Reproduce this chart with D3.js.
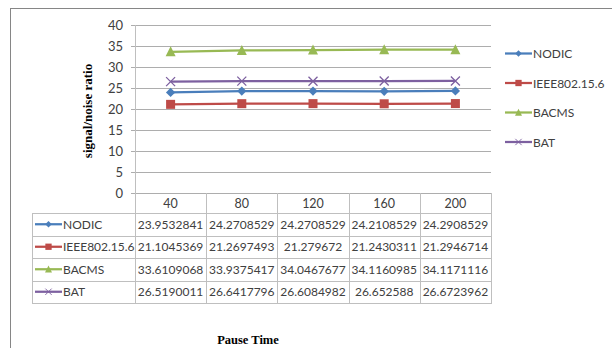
<!DOCTYPE html>
<html>
<head>
<meta charset="utf-8">
<script src="https://cdn.jsdelivr.net/npm/d3@7/dist/d3.min.js"></script>
<style>
  html, body { margin: 0; padding: 0; background: #fff; }
  svg { display: block; }
</style>
</head>
<body>
<svg id="chart" width="612" height="348"></svg>
<script>
// Pause times (x categories)
const categories = ["40", "80", "120", "160", "200"];

// Signal/noise ratio per protocol
const seriesNames = ["NODIC", "IEEE802.15.6", "BACMS", "BAT"];
const nodic   = [23.9532841, 24.2708529, 24.2708529, 24.2108529, 24.2908529];
const ieee    = [21.1045369, 21.2697493, 21.279672, 21.2430311, 21.2946714];
const bacms   = [33.6109068, 33.9375417, 34.0467677, 34.1160985, 34.1171116];
const bat     = [26.5190011, 26.6417796, 26.6084982, 26.652588, 26.6723962];

// Value labels as printed in the data table
const nodicLabels = ["23.9532841", "24.2708529", "24.2708529", "24.2108529", "24.2908529"];
const ieeeLabels  = ["21.1045369", "21.2697493", "21.279672", "21.2430311", "21.2946714"];
const bacmsLabels = ["33.6109068", "33.9375417", "34.0467677", "34.1160985", "34.1171116"];
const batLabels   = ["26.5190011", "26.6417796", "26.6084982", "26.652588", "26.6723962"];

const yTicks = [0, 5, 10, 15, 20, 25, 30, 35, 40];

const colors = ["#4A7EBB", "#BE4B48", "#98B954", "#7D60A0"];
const symbols = ["diamond", "square", "triangle", "cross"];

const series = seriesNames.map((name, i) => ({
  name,
  values: [nodic, ieee, bacms, bat][i],
  labels: [nodicLabels, ieeeLabels, bacmsLabels, batLabels][i],
  color: colors[i],
  symbol: symbols[i]
}));

const svg = d3.select("#chart");
const font = "Lato, 'Open Sans', 'Noto Sans', sans-serif";

// Outer chart frame
svg.append("rect")
  .attr("x", 10.5).attr("y", 8.5)
  .attr("width", 640).attr("height", 400)
  .attr("fill", "none").attr("stroke", "#868686").attr("stroke-width", 1);

const plot = { left: 135, right: 491, top: 25, bottom: 193 };

const x = d3.scaleBand().domain(categories).range([plot.left, plot.right]).padding(0);
const y = d3.scaleLinear().domain([0, 40]).range([plot.bottom, plot.top]);

// Horizontal gridlines with small tick stubs on the left
const yAxis = d3.axisLeft(y).tickValues(yTicks)
  .tickSize(-(plot.right - plot.left + 4)).tickPadding(8);
const yg = svg.append("g").attr("transform", `translate(${plot.left - 4},0)`).call(yAxis);
yg.select(".domain").remove();
yg.selectAll(".tick line").attr("stroke", "#ADADAD").attr("stroke-width", 1)
  .attr("shape-rendering", "crispEdges");
yg.selectAll(".tick text").attr("fill", "#404040")
  .style("font-family", font).style("font-size", "13px");

// Y axis title
svg.append("text")
  .attr("transform", `translate(92,${(plot.top + plot.bottom) / 2 + 2}) rotate(-90)`)
  .attr("text-anchor", "middle")
  .style("font-family", "'Liberation Serif', 'Times New Roman', serif")
  .style("font-weight", "bold").style("font-size", "13px")
  .attr("fill", "#000")
  .text("signal/noise ratio");

// Data table below the plot
const rowTop = 213, rowH = 22.5;
const tableLeft = 32;
const tableBottom = rowTop + rowH * series.length;
const tg = svg.append("g").attr("shape-rendering", "crispEdges");
const gridStroke = "#BFBFBF";

// Vertical axis line through header and table
tg.append("line").attr("x1", plot.left + 0.5).attr("x2", plot.left + 0.5)
  .attr("y1", plot.top).attr("y2", tableBottom)
  .attr("stroke", gridStroke);
// Column separators
categories.forEach(c => {
  const xr = Math.round(x(c) + x.bandwidth()) + 0.5;
  tg.append("line").attr("x1", xr).attr("x2", xr)
    .attr("y1", plot.bottom).attr("y2", tableBottom).attr("stroke", gridStroke);
});
// Row lines
for (let r = 0; r <= series.length; r++) {
  const yy = Math.round(rowTop + r * rowH) + 0.5;
  tg.append("line").attr("x1", tableLeft).attr("x2", plot.right + 0.5)
    .attr("y1", yy).attr("y2", yy).attr("stroke", gridStroke);
}
tg.append("line").attr("x1", tableLeft + 0.5).attr("x2", tableLeft + 0.5)
  .attr("y1", rowTop).attr("y2", tableBottom).attr("stroke", gridStroke);

// Header: category labels
svg.append("g").selectAll("text").data(categories).join("text")
  .attr("x", d => x(d) + x.bandwidth() / 2)
  .attr("y", (plot.bottom + rowTop) / 2 + 5)
  .attr("text-anchor", "middle")
  .style("font-family", font).style("font-size", "12.5px")
  .attr("fill", "#404040")
  .text(d => d);

// Marker drawing helper
function drawMarker(g, type, cx, cy, color, scale) {
  const k = scale || 1;
  if (type === "diamond") {
    g.append("path").attr("d", d3.symbol(d3.symbolDiamond2, 55 * k * k)())
      .attr("transform", `translate(${cx},${cy})`).attr("fill", color);
  } else if (type === "square") {
    const s = 9 * k;
    g.append("rect").attr("x", cx - s / 2).attr("y", cy - s / 2)
      .attr("width", s).attr("height", s).attr("fill", color);
  } else if (type === "triangle") {
    const s = 10 * k;
    g.append("path")
      .attr("d", `M${cx},${cy - s * 0.55}L${cx + s / 2},${cy + s * 0.45}L${cx - s / 2},${cy + s * 0.45}Z`)
      .attr("fill", color);
  } else {
    const s = 4.5 * k;
    g.append("path")
      .attr("d", `M${cx - s},${cy - s}L${cx + s},${cy + s}M${cx - s},${cy + s}L${cx + s},${cy - s}`)
      .attr("stroke", color).attr("stroke-width", 1.3 * k).attr("fill", "none");
  }
}

// Table rows: legend key + values
series.forEach((s, i) => {
  const cy = rowTop + rowH * (i + 0.5);
  const g = svg.append("g");
  g.append("line").attr("x1", 35).attr("x2", 62).attr("y1", cy).attr("y2", cy)
    .attr("stroke", s.color).attr("stroke-width", 2.25);
  drawMarker(g, s.symbol, 48.5, cy, s.color, 0.7);
  g.append("text").attr("x", 63).attr("y", cy + 4.5)
    .style("font-family", font).style("font-size", "12px").attr("fill", "#404040")
    .text(s.name);
  g.selectAll("text.v").data(s.labels).join("text").attr("class", "v")
    .attr("x", (d, j) => x(categories[j]) + x.bandwidth() / 2)
    .attr("y", cy + 4.5)
    .attr("text-anchor", "middle")
    .style("font-family", font).style("font-size", "12px").attr("fill", "#404040")
    .text(d => d);
});

// Lines and markers
const line = d3.line()
  .x((d, j) => x(categories[j]) + x.bandwidth() / 2)
  .y(d => y(d));

series.forEach(s => {
  const g = svg.append("g");
  g.append("path").datum(s.values).attr("d", line)
    .attr("fill", "none").attr("stroke", s.color).attr("stroke-width", 2.25);
  s.values.forEach((v, j) => {
    drawMarker(g, s.symbol, x(categories[j]) + x.bandwidth() / 2, y(v), s.color, 1);
  });
});

// Legend on the right
const legendY = [53.5, 83, 112.5, 142];
series.forEach((s, i) => {
  const g = svg.append("g");
  const cy = legendY[i];
  g.append("line").attr("x1", 505).attr("x2", 532).attr("y1", cy).attr("y2", cy)
    .attr("stroke", s.color).attr("stroke-width", 2.25);
  drawMarker(g, s.symbol, 518.5, cy, s.color, 0.7);
  g.append("text").attr("x", 533).attr("y", cy + 4.5)
    .style("font-family", font).style("font-size", "12px").attr("fill", "#404040")
    .text(s.name);
});

// X axis title
svg.append("text")
  .attr("x", 248).attr("y", 344)
  .attr("text-anchor", "middle")
  .style("font-family", "'Liberation Serif', 'Times New Roman', serif")
  .style("font-weight", "bold").style("font-size", "12.5px")
  .attr("fill", "#000")
  .text("Pause Time");
</script>
</body>
</html>
